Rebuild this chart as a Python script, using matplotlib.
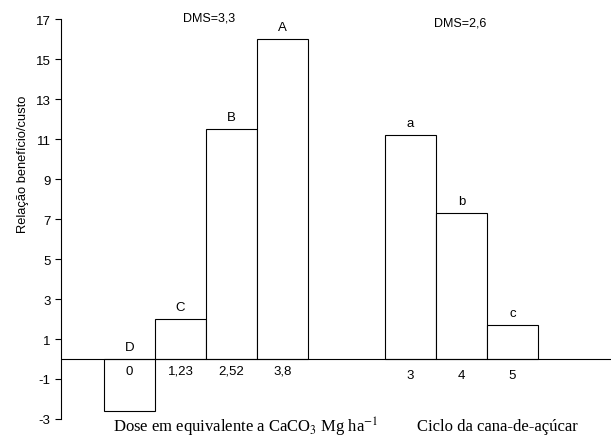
import matplotlib
matplotlib.use('Agg')
import matplotlib.pyplot as plt
import numpy as np

dose_labels = ['0', '1,23', '2,52', '3,8']
dose_values = [-2.6, 2.0, 11.5, 16.0]
dose_letters = ['D', 'C', 'B', 'A']

ciclo_labels = ['3', '4', '5']
ciclo_values = [11.2, 7.3, 1.7]
ciclo_letters = ['a', 'b', 'c']

yticks = [-3, -1, 1, 3, 5, 7, 9, 11, 13, 15, 17]

plt.rcParams['font.family'] = ['Liberation Sans', 'DejaVu Sans']

fig = plt.figure(figsize=(6.14, 4.39), dpi=100)
ax = fig.add_axes([0.0993, 0.0433, 0.895, 0.911])

x_dose = np.arange(len(dose_values))
x_ciclo = np.arange(len(ciclo_values)) + 5.5

ax.bar(x_dose, dose_values, width=1.0, facecolor='white', edgecolor='black', linewidth=0.8)
ax.bar(x_ciclo, ciclo_values, width=1.0, facecolor='white', edgecolor='black', linewidth=0.8)
ax.axhline(0, color='black', linewidth=0.8)

for x, v, l in zip(x_dose, dose_values, dose_letters):
    ax.text(x, max(v, 0) + 0.32, l, ha='center', va='bottom', fontsize=9.5)
for x, v, l in zip(x_ciclo, ciclo_values, ciclo_letters):
    ax.text(x, v + 0.32, l, ha='center', va='bottom', fontsize=9.5)

for x, l in zip(x_dose, dose_labels):
    ax.text(x, -0.6, l, ha='center', va='center', fontsize=9.5)
for x, l in zip(x_ciclo, ciclo_labels):
    ax.text(x, -0.78, l, ha='center', va='center', fontsize=9.5)

ax.text(1.56, 17.1, 'DMS=3,3', ha='center', va='center', fontsize=9)
ax.text(6.48, 16.85, 'DMS=2,6', ha='center', va='center', fontsize=9)

ax.text(2.28, -3.35, 'Dose em equivalente a CaCO$_3$ Mg ha$^{-1}$', ha='center', va='center',
        fontsize=12, family='Liberation Serif', math_fontfamily='stix')
ax.text(7.2, -3.35, 'Ciclo da cana-de-açúcar', ha='center', va='center',
        fontsize=12, family='Liberation Serif')

ax.set_xlim(-1.34, 9.42)
ax.set_ylim(-3, 17)
ax.set_yticks(yticks)
ax.set_yticklabels([str(t) for t in yticks])
ax.tick_params(axis='y', direction='out', length=4, width=0.8, labelsize=9.5)
ax.set_xticks([])
for s in ['top', 'right', 'bottom']:
    ax.spines[s].set_visible(False)
ax.spines['left'].set_linewidth(0.8)
ax.set_ylabel('Relação benefício/custo', fontsize=9.3)
ax.yaxis.set_label_coords(-0.0575, 0.64)
ax.patch.set_alpha(0)

fig.savefig('out.png', dpi=100)
